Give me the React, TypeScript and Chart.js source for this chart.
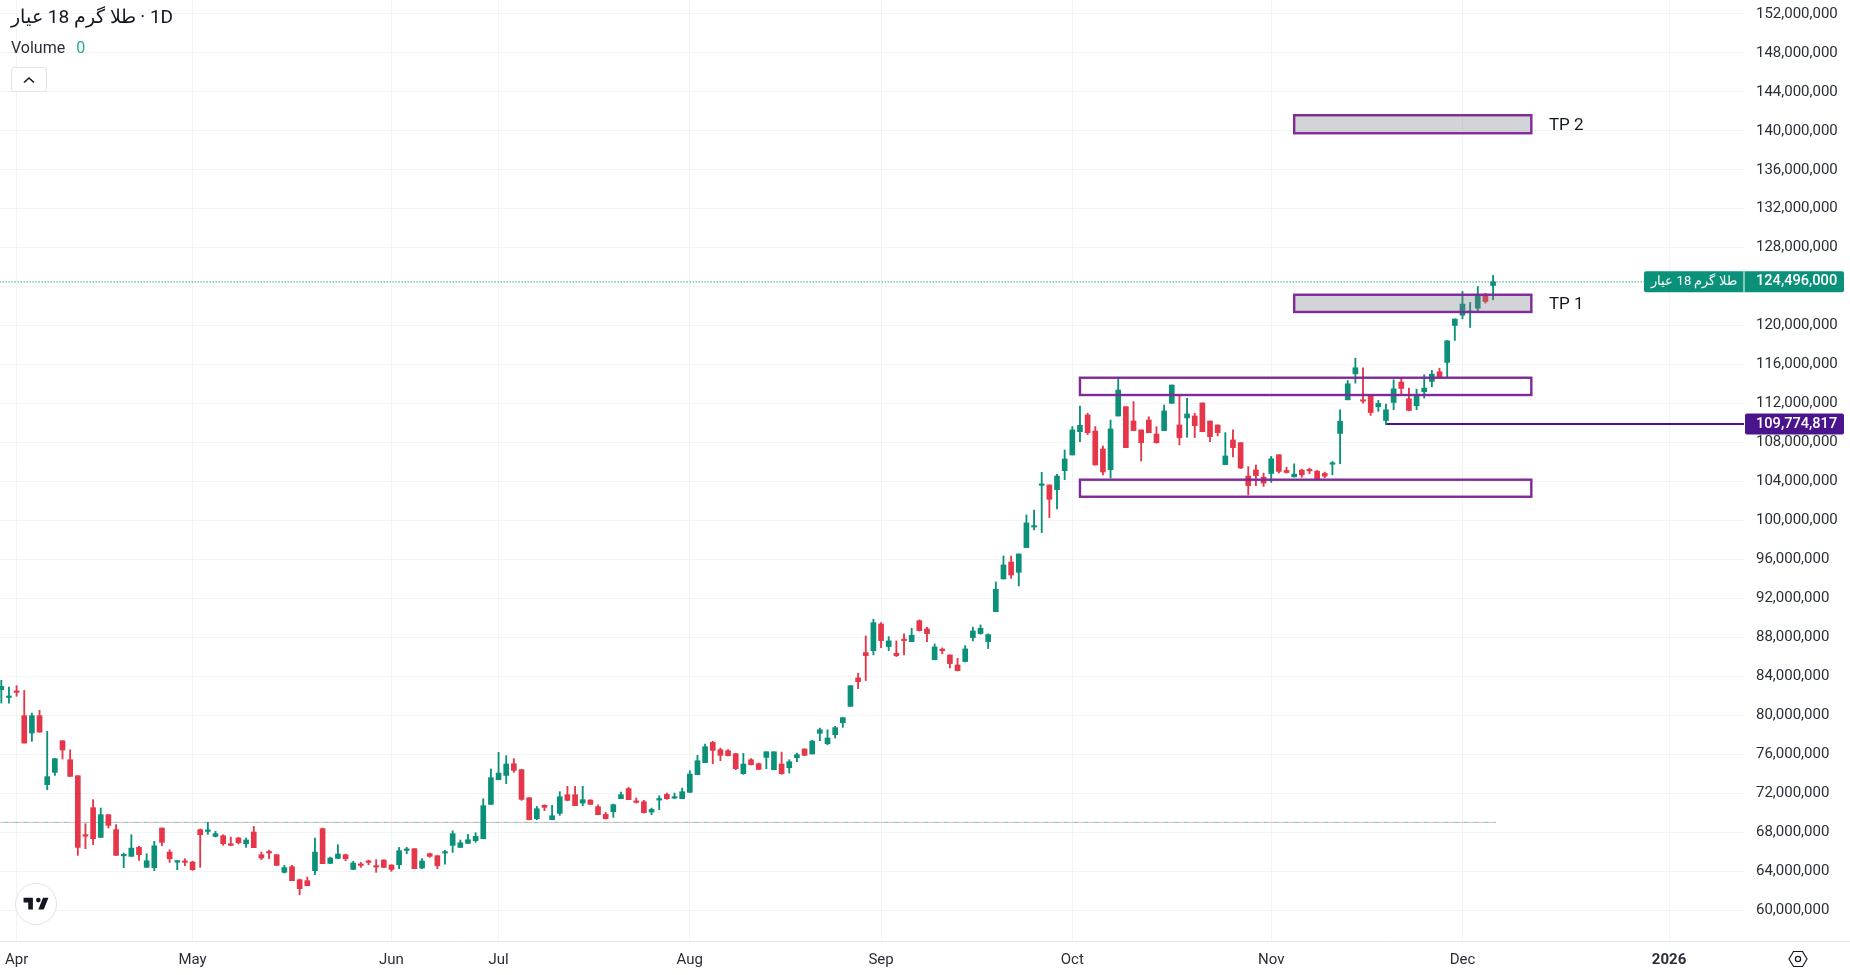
import React, { useEffect, useRef } from "react";
import { Chart, registerables } from "chart.js";

Chart.register(...registerables);

// Daily candles, prices in millions
const open = [
  82.62,81.82,82.42,79.95,78.17,79.95,72.87,74.13,77.38,75.43,
  73.79,67.68,70.51,67.46,69.79,68.25,65.56,65.51,66.43,64.38,
  64.35,68.42,65.95,64.92,64.97,64.93,68.25,68.07,67.56,67.63,
  66.81,67.39,66.81,68.01,65.68,65.95,65.68,63.87,64.45,63.11,
  63.01,64.04,68.35,64.79,65.30,65.68,64.17,64.66,64.97,64.49,
  65.13,64.62,64.65,66.12,66.30,64.31,65.78,65.58,65.85,66.64,
  66.43,66.84,67.12,67.32,70.85,73.38,73.82,75.02,74.41,71.53,
  69.38,70.75,69.27,69.92,71.84,71.84,70.98,71.29,70.61,69.82,
  70.10,71.43,72.46,71.16,71.12,70.06,71.29,71.87,71.49,71.43,
  72.08,73.89,75.13,77.21,76.46,76.36,76.05,74.00,75.43,75.02,
  75.67,74.41,74.99,74.61,75.64,76.53,76.02,78.14,77.08,78.00,
  79.23,80.91,83.83,86.43,86.63,89.37,87.05,86.36,87.74,87.56,
  89.71,88.86,85.71,86.71,86.19,85.16,85.51,87.97,88.38,87.56,
  90.63,93.99,95.73,94.67,97.21,99.32,103.60,103.64,103.16,105.11,
  106.72,109.11,110.83,109.18,107.33,105.21,110.72,111.68,110.21,109.29,
  110.31,108.87,109.22,112.02,109.80,110.52,110.72,112.06,110.21,109.80,
  105.73,108.26,107.98,104.56,105.18,104.44,104.82,106.74,105.13,104.48,
  105.16,105.17,105.06,104.82,105.77,108.93,112.38,115.05,112.32,112.83,
  111.67,110.26,112.11,114.20,112.49,111.77,113.21,114.27,115.26,116.22,
  120.02,121.08,121.35,121.79,123.10,124.12,
];
const high = [
  83.58,82.89,83.03,82.55,80.22,80.50,78.34,75.57,77.38,76.46,
  73.79,68.86,71.33,70.47,69.79,68.76,65.85,67.73,66.54,65.78,
  67.05,68.42,66.19,65.03,65.27,65.00,68.32,69.00,68.08,67.73,
  67.49,67.46,67.39,68.59,65.95,66.16,65.68,64.59,64.59,63.18,
  63.39,67.39,68.42,65.44,66.71,65.75,65.00,64.89,65.13,65.17,
  65.17,64.65,66.43,66.43,66.30,65.27,65.85,65.58,66.13,68.14,
  67.19,67.77,67.94,71.43,74.48,76.19,75.84,75.54,74.41,71.53,
  70.64,70.81,70.75,72.15,72.70,72.70,72.70,71.33,70.81,70.03,
  70.88,72.11,72.59,71.50,71.26,70.47,71.74,72.01,72.01,72.52,
  74.30,75.88,77.04,77.32,76.63,76.46,76.08,76.08,75.54,75.09,
  76.25,76.25,76.22,75.43,76.12,76.56,77.42,78.68,78.51,78.86,
  79.78,83.06,84.31,88.14,89.85,89.51,88.07,87.63,88.35,88.93,
  89.78,89.03,87.32,86.91,86.19,85.85,87.15,89.03,89.27,88.35,
  93.68,96.35,96.35,96.56,100.56,101.07,104.94,103.64,104.73,107.23,
  109.63,111.75,111.00,109.63,107.64,110.31,114.59,111.68,112.19,109.29,
  110.65,109.63,111.85,113.90,112.88,112.54,111.00,112.06,110.21,109.80,
  109.01,109.29,107.98,105.52,105.69,104.86,106.57,106.74,105.47,105.81,
  105.27,105.37,105.13,104.96,106.05,111.36,114.37,116.66,115.67,112.90,
  112.32,111.94,114.44,114.61,113.58,113.48,114.95,115.40,115.63,118.48,
  120.70,123.51,122.38,124.02,123.33,125.15,
];
const low = [
  81.25,81.25,81.94,77.14,77.32,78.24,72.35,73.82,75.50,73.72,
  65.61,66.30,66.71,67.46,68.42,65.61,64.35,65.51,65.10,64.38,
  64.04,66.60,64.89,64.14,64.55,64.07,64.38,67.77,67.49,66.64,
  66.60,66.78,66.43,66.40,65.17,65.27,64.55,63.80,63.01,61.57,
  62.50,63.63,64.76,64.76,65.27,65.06,64.14,64.38,64.65,63.87,
  64.35,63.97,64.24,65.78,64.24,64.24,65.41,64.24,64.72,65.92,
  66.43,66.84,66.95,67.32,70.81,73.38,72.97,74.13,71.26,69.27,
  69.27,70.20,69.27,69.72,71.22,70.71,70.71,70.81,69.79,69.34,
  69.51,71.43,71.33,70.98,69.96,69.79,70.30,71.36,71.43,71.43,
  72.08,73.89,75.13,75.02,75.33,75.81,74.41,73.93,74.89,74.41,
  74.51,74.41,73.93,74.06,75.23,75.84,76.02,77.38,76.97,77.66,
  78.75,80.91,82.73,83.56,86.19,86.94,86.63,86.02,86.19,87.56,
  88.65,87.56,85.68,86.29,84.86,84.55,85.47,87.63,88.31,86.84,
  90.63,93.99,94.06,93.27,97.21,99.02,98.75,100.29,101.17,104.19,
  106.72,108.09,108.81,105.69,104.67,104.36,110.72,107.47,109.22,106.10,
  109.01,107.92,109.22,112.02,107.75,108.53,108.50,109.11,108.09,108.67,
  105.73,106.51,105.32,102.61,103.57,103.49,103.90,104.86,104.86,104.44,
  104.44,104.79,104.17,104.38,104.68,105.81,112.38,114.09,112.04,110.78,
  111.19,109.82,111.36,112.93,111.25,111.36,112.56,113.72,114.68,114.68,
  118.48,120.70,119.81,121.45,122.31,122.65,
];
const close = [
  82.96,81.90,82.34,77.14,79.95,78.27,73.69,75.54,76.43,73.72,
  66.43,67.58,67.32,69.79,68.69,65.61,65.66,66.36,65.68,65.06,
  66.60,66.95,65.27,65.00,64.89,64.14,67.73,68.15,67.84,66.81,
  66.64,66.91,67.19,66.40,65.34,65.85,64.59,64.35,63.01,62.19,
  62.50,65.95,64.76,65.34,65.75,65.27,64.83,64.58,64.89,64.41,
  64.38,64.17,66.09,66.20,64.24,65.03,65.51,64.55,65.93,67.84,
  66.91,67.22,67.56,70.71,73.59,74.06,74.99,74.34,71.36,69.27,
  70.40,70.54,69.68,71.63,71.26,70.71,71.33,70.85,69.79,69.38,
  70.81,71.84,71.33,71.05,69.99,70.33,71.37,71.43,71.57,72.15,
  73.96,75.33,76.77,76.39,75.88,75.84,74.51,74.99,74.92,74.44,
  76.25,76.25,74.00,75.23,75.95,75.88,77.35,78.51,77.66,78.72,
  79.75,83.03,83.45,86.12,89.51,87.66,87.63,86.12,87.66,88.21,
  88.69,88.38,87.01,86.63,85.30,84.58,86.81,88.65,88.93,88.28,
  92.93,95.43,94.40,96.56,99.74,99.42,103.68,102.17,104.56,106.31,
  109.29,109.76,109.01,105.69,104.97,109.39,113.39,107.47,109.22,107.98,
  109.01,107.98,111.24,113.90,108.50,110.93,109.73,109.11,108.60,109.01,
  106.62,107.47,105.38,103.57,104.60,103.83,106.33,105.03,104.92,104.75,
  104.68,105.09,104.24,104.55,105.85,110.19,114.03,115.67,112.24,111.08,
  112.01,111.36,113.51,113.55,111.29,112.83,113.58,115.02,114.71,118.44,
  120.67,122.21,121.45,123.16,122.48,124.496,
];

// Time axis
const monthIndex = [2, 25, 51, 65, 90, 115, 140, 166, 191, 218];
const monthLabels = ["Apr", "May", "Jun", "Jul", "Aug", "Sep", "Oct", "Nov", "Dec", "2026"];

// Price axis
const priceTicks = [60,64,68,72,76,80,84,88,92,96,100,104,108,112,116,120,124,128,132,136,140,144,148,152];

// Drawn zones
const boxStart = [169, 169, 141, 141];
const boxEnd = [200, 200, 200, 200];
const boxTop = [141.6, 123.17, 114.65, 104.18];
const boxBottom = [139.75, 121.4, 112.875, 102.43];
const boxFilled = [true, true, false, false];
const zoneLabels = ["TP 2", "TP 1"];
const zoneLabelIndex = [202.3, 202.3];
const zoneLabelPrice = [140.5, 122.1];

// Horizontal levels
const lastPrice = 124.496;
const lastPriceText = "124,496,000";
const levelPrice = 109.9;
const levelText = "109,774,817";
const levelStart = 181;
const baseLine = 69;
const baseLineEnd = 195.4;
const symbolName = "طلا گرم 18 عیار";

const GREEN = "#0b9179";
const RED = "#e5364a";
const GRID = "#f2f3f5";
const TEXT = "#2a2e39";
const FONT = "Roboto, 'Noto Sans', sans-serif";

const roundRect = (ctx: any, x: number, y: number, w: number, h: number, r: number) => {
  ctx.beginPath();
  ctx.roundRect(x, y, w, h, r);
  ctx.fill();
};

const noPadding = (s: any) => {
  s.paddingTop = 0;
  s.paddingBottom = 0;
  s.paddingLeft = 0;
  s.paddingRight = 0;
};

const zonesPlugin = {
  id: "zones",
  afterDatasetsDraw(chart: any) {
    const { ctx, scales } = chart;
    const { x, y } = scales;
    ctx.save();
    boxStart.forEach((s, i) => {
      const x0 = x.getPixelForValue(s);
      const x1 = x.getPixelForValue(boxEnd[i]);
      const y0 = y.getPixelForValue(boxTop[i]);
      const y1 = y.getPixelForValue(boxBottom[i]);
      if (boxFilled[i]) {
        ctx.fillStyle = "rgba(120,123,134,0.33)";
        ctx.fillRect(x0, y0, x1 - x0, y1 - y0);
      }
      ctx.strokeStyle = "#7f2a96";
      ctx.lineWidth = 2.4;
      ctx.strokeRect(x0, y0, x1 - x0, y1 - y0);
    });
    ctx.fillStyle = "#131722";
    ctx.font = `17px ${FONT}`;
    ctx.textAlign = "left";
    ctx.textBaseline = "middle";
    zoneLabels.forEach((t, i) => {
      ctx.fillText(t, x.getPixelForValue(zoneLabelIndex[i]), y.getPixelForValue(zoneLabelPrice[i]));
    });
    ctx.restore();
  },
  afterDraw(chart: any) {
    const { ctx, scales, width, chartArea } = chart;
    const { y } = scales;
    ctx.save();
    // bottom rule of the time axis
    ctx.strokeStyle = "#e0e3eb";
    ctx.lineWidth = 1;
    ctx.beginPath();
    ctx.moveTo(0, chartArea.bottom + 0.5);
    ctx.lineTo(width, chartArea.bottom + 0.5);
    ctx.stroke();

    const axisX = chartArea.right;
    // last price tag
    const py = y.getPixelForValue(lastPrice);
    ctx.fillStyle = GREEN;
    roundRect(ctx, axisX - 100, py - 10.5, 200, 21, 2);
    ctx.fillStyle = "#ffffff";
    ctx.fillRect(axisX - 0.5, py - 10.5, 1, 21);
    ctx.textBaseline = "middle";
    ctx.textAlign = "left";
    ctx.font = `500 14.6px ${FONT}`;
    ctx.fillText(lastPriceText, axisX + 12, py);
    ctx.font = `13px ${FONT}`;
    ctx.textAlign = "center";
    ctx.fillText(symbolName, axisX - 50, py);
    // level tag
    const ly = y.getPixelForValue(levelPrice);
    ctx.fillStyle = "#4a148c";
    roundRect(ctx, axisX + 1, ly - 10.5, 99, 21, 2);
    ctx.fillStyle = "#ffffff";
    ctx.textAlign = "left";
    ctx.font = `500 14.6px ${FONT}`;
    ctx.fillText(levelText, axisX + 12, ly);
    ctx.restore();
  },
};

export default function App() {
  const ref = useRef<HTMLCanvasElement>(null);

  useEffect(() => {
    if (!ref.current) return;
    const colors = close.map((c, i) => (c >= open[i] ? GREEN : RED));
    const chart = new Chart(ref.current, {
      type: "bar",
      data: {
        datasets: [
          {
            type: "bar",
            label: "Body",
            order: 1,
            grouped: false,
            barThickness: 5,
            minBarLength: 1.5,
            backgroundColor: colors,
            data: open.map((o, i) => ({ x: i, y: [o, close[i]] })),
          },
          {
            type: "bar",
            label: "Wick",
            order: 2,
            grouped: false,
            barThickness: 1.2,
            backgroundColor: colors,
            data: high.map((h, i) => ({ x: i, y: [low[i], h] })),
          },
          {
            type: "line",
            label: "Last",
            order: 3,
            borderColor: GREEN,
            borderWidth: 1.2,
            borderDash: [1, 2],
            pointRadius: 0,
            data: [{ x: -1, y: lastPrice }, { x: 215, y: lastPrice }],
          },
          {
            type: "line",
            label: "Level",
            order: 3,
            borderColor: "#4a148c",
            borderWidth: 2,
            pointRadius: 0,
            data: [{ x: levelStart, y: levelPrice }, { x: 228, y: levelPrice }],
          },
          {
            type: "line",
            label: "Base up",
            order: 4,
            borderColor: "rgba(8,153,129,0.55)",
            borderWidth: 1,
            borderDash: [5, 5],
            pointRadius: 0,
            data: [{ x: -1, y: baseLine }, { x: baseLineEnd, y: baseLine }],
          },
          {
            type: "line",
            label: "Base down",
            order: 5,
            borderColor: "rgba(242,54,69,0.4)",
            borderWidth: 1,
            borderDash: [5, 5],
            borderDashOffset: 5,
            pointRadius: 0,
            data: [{ x: -1, y: baseLine }, { x: baseLineEnd, y: baseLine }],
          },
        ] as any,
      },
      options: {
        responsive: false,
        animation: false,
        devicePixelRatio: 1,
        layout: { padding: 0 },
        plugins: { legend: { display: false }, tooltip: { enabled: false } },
        events: [],
        scales: {
          x: {
            type: "linear",
            min: -0.17,
            max: 227.8,
            offset: false,
            afterFit: (s: any) => { s.height = 34; noPadding(s); },
            afterBuildTicks: (s: any) => { s.ticks = monthIndex.map((v) => ({ value: v })); },
            border: { display: false },
            grid: { color: GRID, drawTicks: false, offset: false },
            ticks: {
              autoSkip: false,
              maxRotation: 0,
              padding: 10,
              color: TEXT,
              font: (c: any) => ({
                family: FONT,
                size: 15,
                weight: c.tick && c.tick.value === 218 ? "bold" : "normal",
              }),
              callback: (v: any) => monthLabels[monthIndex.indexOf(Number(v))],
            },
          },
          y: {
            type: "linear",
            position: "right",
            min: 56.82,
            max: 153.43,
            afterFit: (s: any) => { s.width = 106; noPadding(s); },
            afterBuildTicks: (s: any) => { s.ticks = priceTicks.map((v) => ({ value: v })); },
            border: { display: false },
            grid: { color: GRID, drawTicks: false },
            ticks: {
              autoSkip: false,
              padding: 12,
              labelOffset: 0,
              color: TEXT,
              font: { family: FONT, size: 15 },
              callback: (v: any) => (Number(v) * 1000000).toLocaleString("en-US"),
            },
          },
        },
      } as any,
      plugins: [zonesPlugin],
    });
    return () => chart.destroy();
  }, []);

  return (
    <div style={{ position: "fixed", left: 0, top: 0, width: 1850, height: 975, background: "#fff", overflow: "hidden" }}>
      <canvas ref={ref} width={1850} height={975} style={{ display: "block", width: 1850, height: 975 }} />
      <div style={{ position: "absolute", left: 11, top: 5, font: `19px ${FONT}`, lineHeight: "24px", color: "#131722", whiteSpace: "nowrap", direction: "ltr" }}>
        <bdi>{symbolName}</bdi> · 1D
      </div>
      <div style={{ position: "absolute", left: 11, top: 38, font: `16px ${FONT}`, lineHeight: "20px", color: "#2a2e39", whiteSpace: "nowrap" }}>
        Volume<span style={{ color: "#22ab94", marginLeft: 11 }}>0</span>
      </div>
      <div style={{ position: "absolute", left: 11, top: 67, width: 36, height: 25, boxSizing: "border-box", border: "1px solid #e0e3eb", borderRadius: 3, background: "#fff", display: "flex", alignItems: "center", justifyContent: "center" }}>
        <svg width="14" height="8" viewBox="0 0 14 8"><path d="M2 6.5 L7 2 L12 6.5" fill="none" stroke="#131722" strokeWidth="1.6" /></svg>
      </div>
      <div style={{ position: "absolute", left: 15, top: 883, width: 42, height: 42, boxSizing: "border-box", borderRadius: "50%", border: "1px solid #e0e3eb", background: "#fff", display: "flex", alignItems: "center", justifyContent: "center" }}>
        <svg width="28" height="22" viewBox="0 0 36 28"><path fill="#131722" d="M14 6H2v6h6v9h6V6zm14 15h-7l6-15h7l-6 15zm-7-9a3 3 0 1 0 0-6 3 3 0 0 0 0 6z" /></svg>
      </div>
      <svg style={{ position: "absolute", left: 1788, top: 950 }} width="20" height="18" viewBox="0 0 20 18">
        <path d="M1 9 L5.5 1.5 H14.5 L19 9 L14.5 16.5 H5.5 Z" fill="none" stroke="#131722" strokeWidth="1.2" />
        <circle cx="10" cy="9" r="2.6" fill="none" stroke="#131722" strokeWidth="1.2" />
      </svg>
    </div>
  );
}
